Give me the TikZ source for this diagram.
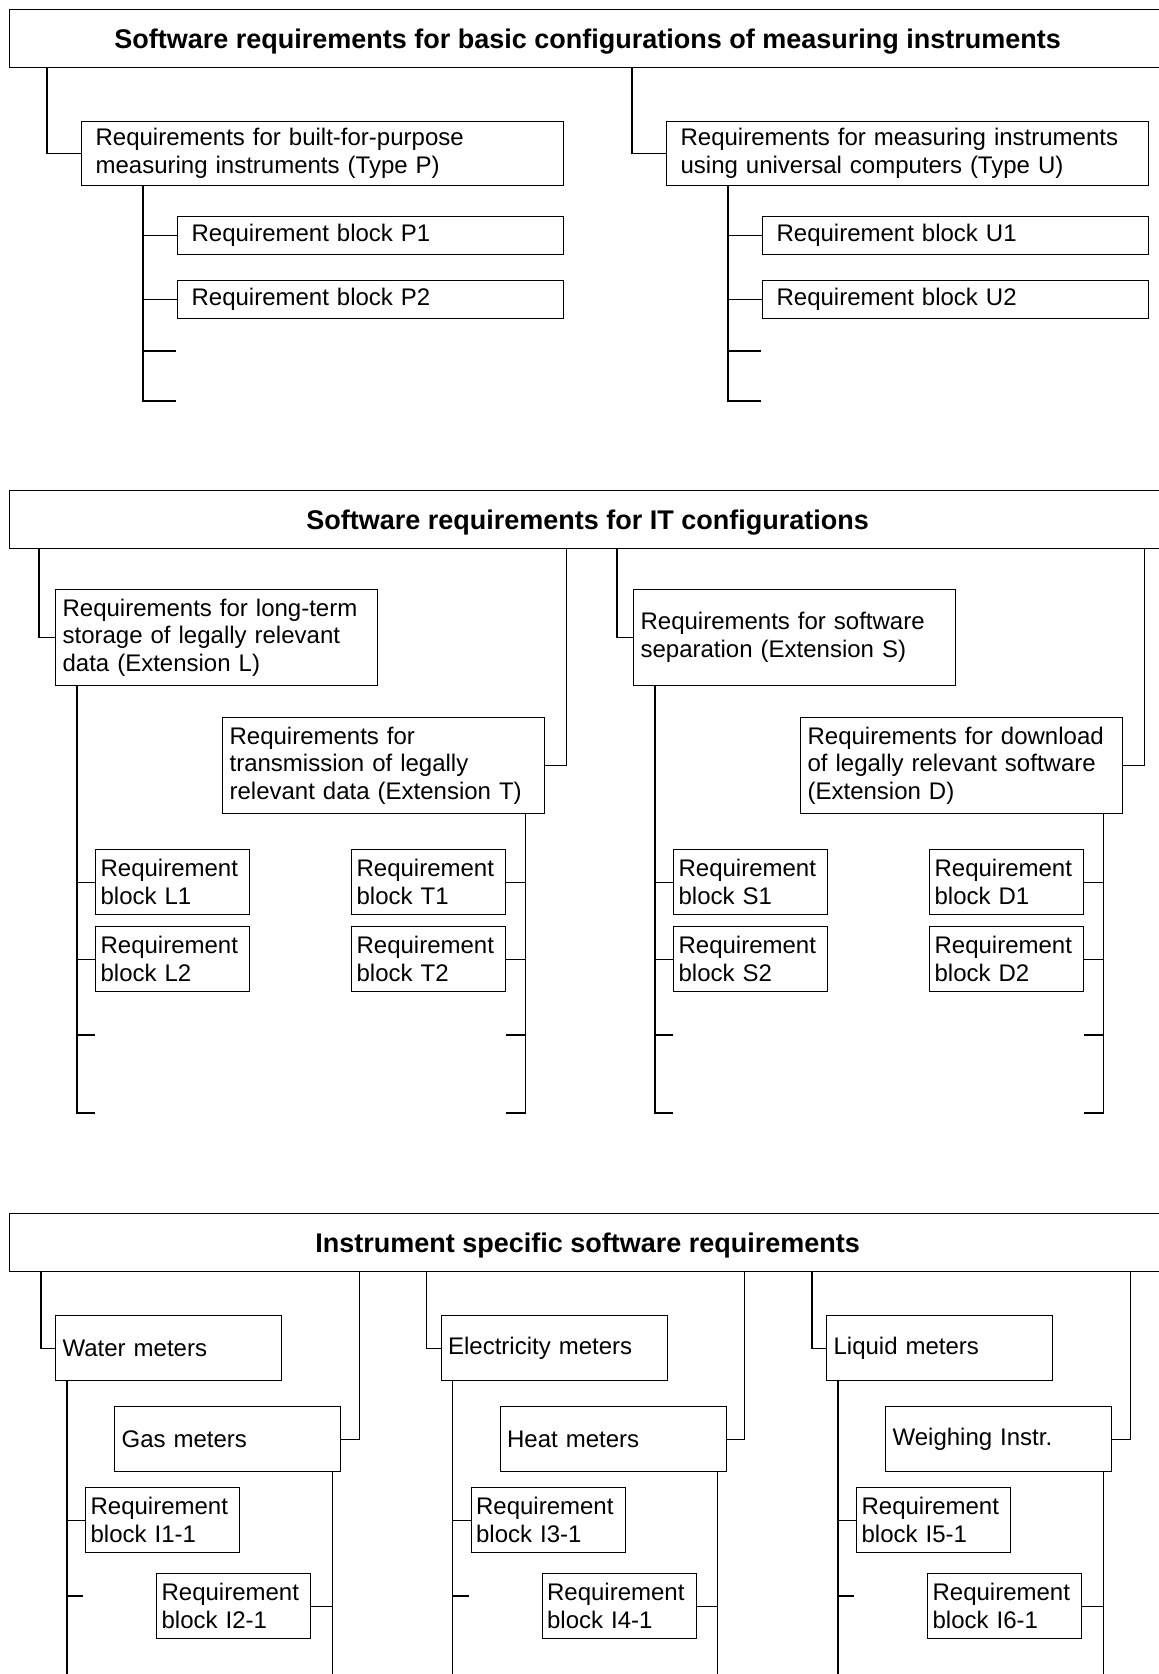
\documentclass[tikz,border=0pt]{standalone}
\usepackage{fontspec}
\setmainfont{Liberation Sans}

\begin{document}
\begin{tikzpicture}[
    x=0.5pt, y=-0.5pt,
    headbox/.style={
        rectangle, draw, anchor=north west, inner sep=0pt, line width=0.6pt,
        minimum width=578pt, minimum height=29pt, text depth=0pt,
        font=\fontsize{13.5}{15}\selectfont\bfseries
    },
    reqbox/.style={
        rectangle, draw, anchor=north west, inner ysep=0pt, line width=0.6pt,
        align=left, font=\fontsize{12}{13.9}\selectfont
    },
    typebox/.style={reqbox, text width=227pt, inner xsep=7pt, minimum height=32pt},
    longbox/.style={reqbox, text width=179pt, inner xsep=7pt, minimum height=19pt},
    extbox/.style={reqbox, text width=154pt, inner xsep=3.5pt, minimum height=48pt},
    blockbox/.style={reqbox, text width=72pt, inner xsep=2.5pt, minimum height=32.5pt},
    meterbox/.style={reqbox, text width=106pt, inner xsep=3.5pt, minimum height=32.5pt},
    link/.style={draw, line width=0.6pt}
]
\useasboundingbox (0,0) rectangle (1159,1674);
\coordinate (bottom) at (0,1674);

\node[headbox] (basic) at (9,9) {Software requirements for basic configurations of measuring instruments};
\foreach \kind/\dx/\txt in {P/0/{Requirements for built-for-purpose\\measuring instruments (Type P)},
    U/585/{Requirements for measuring instruments\\using universal computers (Type U)}}{
    \node[typebox] (\kind) at (81+\dx,121) {\txt};
    \node[longbox] (\kind1) at (177+\dx,216) {Requirement block \kind1};
    \node[longbox] (\kind2) at (177+\dx,280) {Requirement block \kind2};
    \draw[link] (\kind.west) -- ++(-34,0) coordinate (\kind0) -- (\kind0 |- basic.south);
    \coordinate (\kind t) at ([xshift=31pt]\kind.south west);
    \coordinate (\kind s1) at (176+\dx,351);
    \coordinate (\kind s2) at (176+\dx,401);
    \draw[link] (\kind t) |- (\kind1.west) (\kind t) |- (\kind2.west)
        (\kind t) |- (\kind s1) (\kind t) |- (\kind s2);
}

\node[headbox] (itcfg) at (9,490) {Software requirements for IT configurations};
\foreach \extA/\extB/\dx/\txtA/\txtB in {L/T/0/{Requirements for long-term\\storage of legally relevant\\data (Extension L)}/{Requirements for\\transmission of legally\\relevant data (Extension T)},
    S/D/578/{Requirements for software\\separation (Extension S)}/{Requirements for download\\of legally relevant software\\(Extension D)}}{
    \node[extbox] (\extA) at (55+\dx,589) {\txtA};
    \node[extbox] (\extB) at (222+\dx,717) {\txtB};
    \node[blockbox] (\extA1) at (95+\dx,849) {Requirement\\block \extA1};
    \node[blockbox] (\extA2) at (95+\dx,926) {Requirement\\block \extA2};
    \node[blockbox] (\extB1) at (351+\dx,849) {Requirement\\block \extB1};
    \node[blockbox] (\extB2) at (351+\dx,926) {Requirement\\block \extB2};
    \draw[link] (\extA.west) -- ++(-16,0) coordinate (\extA0) -- (\extA0 |- itcfg.south);
    \draw[link] (\extB.east) -- ++(21,0) coordinate (\extB0) -- (\extB0 |- itcfg.south);
    \coordinate (\extA t) at ([xshift=11pt]\extA.south west);
    \coordinate (\extB t) at ([xshift=-10pt]\extB.south east);
    \coordinate (\extA s1) at (95+\dx,1035);
    \coordinate (\extA s2) at (95+\dx,1113);
    \coordinate (\extB s1) at (506+\dx,1035);
    \coordinate (\extB s2) at (506+\dx,1113);
    \draw[link] (\extA t) |- (\extA1.west) (\extA t) |- (\extA2.west)
        (\extA t) |- (\extA s1) (\extA t) |- (\extA s2);
    \draw[link] (\extB t) |- (\extB1.east) (\extB t) |- (\extB2.east)
        (\extB t) |- (\extB s1) (\extB t) |- (\extB s2);
}

\node[headbox] (inst) at (9,1213) {Instrument specific software requirements};
\foreach \mA/\mB/\dx/\txtA/\txtB/\nA/\nB in {water/gas/0/Water meters/Gas meters/1/2,
    elec/heat/385.5/Electricity meters/Heat meters/3/4,
    liquid/weigh/771/Liquid meters/Weighing Instr./5/6}{
    \node[meterbox] (\mA) at (55+\dx,1315) {\txtA};
    \node[meterbox] (\mB) at (114+\dx,1406) {\txtB};
    \node[blockbox] (\mA1) at (85+\dx,1487) {Requirement\\block I\nA-1};
    \node[blockbox] (\mB1) at (156+\dx,1573) {Requirement\\block I\nB-1};
    \draw[link] (\mA.west) -- ++(-14,0) coordinate (\mA0) -- (\mA0 |- inst.south);
    \draw[link] (\mB.east) -- ++(18,0) coordinate (\mB0) -- (\mB0 |- inst.south);
    \coordinate (\mA t) at ([xshift=6pt]\mA.south west);
    \coordinate (\mB t) at ([xshift=-4.5pt]\mB.south east);
    \coordinate (\mA s) at (83+\dx,1596);
    \draw[link] (\mA t) -- (\mA t |- bottom) (\mA t) |- (\mA1.west) (\mA t) |- (\mA s);
    \draw[link] (\mB t) -- (\mB t |- bottom) (\mB t) |- (\mB1.east);
}

\end{tikzpicture}
\end{document}
